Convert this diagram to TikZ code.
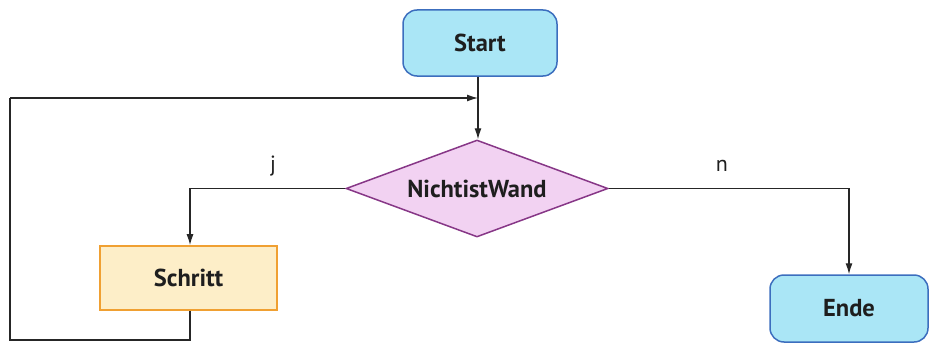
\documentclass[tikz,border=0pt]{standalone}
\usepackage{fontspec}
\setmainfont{PT Sans}
\usetikzlibrary{shapes.geometric,arrows.meta}
\definecolor{termfill}{RGB}{170,230,246}
\definecolor{termdraw}{RGB}{60,110,190}
\definecolor{decfill}{RGB}{242,210,242}
\definecolor{decdraw}{RGB}{135,55,135}
\definecolor{stepfill}{RGB}{253,238,200}
\definecolor{stepdraw}{RGB}{240,160,50}
\definecolor{txt}{RGB}{30,30,30}
\begin{document}
\begin{tikzpicture}[x=1pt,y=-1pt,
  term/.style={draw=termdraw,fill=termfill,line width=1.5pt,rounded corners=14pt,minimum width=154pt,minimum height=66pt,font=\bfseries\fontsize{24.5}{26}\selectfont,text=txt},
  decision/.style={draw=decdraw,fill=decfill,line width=1.5pt,diamond,aspect=2.7,minimum width=262pt,minimum height=97pt,inner sep=0pt,font=\bfseries\fontsize{24.5}{26}\selectfont,text=txt},
  stepbox/.style={draw=stepdraw,fill=stepfill,line width=1.7pt,minimum width=177pt,minimum height=64pt,font=\bfseries\fontsize{24.5}{26}\selectfont,text=txt},
  conn/.style={draw=black!85,line width=1.2pt},
  arr/.style={conn,-{Latex[length=11pt,width=7pt]}},
  lbl/.style={font=\fontsize{22}{24}\selectfont,text=txt}]
\useasboundingbox (0,0) rectangle (933,345);
\node[term] (start) at (480,43) {Start};
\node[decision] (dec) at (477,188.5) {NichtistWand};
\node[stepbox] (schritt) at (188.5,278) {Schritt};
\node[term,minimum width=158pt,minimum height=67pt] (ende) at (849,308.5) {Ende};
\coordinate (join) at (478,98);
\coordinate (loopA) at (10,98);
\coordinate (loopB) at (10,340);
\coordinate (loopC) at (190,340);
\draw[conn] (start.south -| join) -- (join);
\draw[arr] (join) -- (join |- dec.north);
\draw[conn] (schritt.south -| loopC) -- (loopC) -- (loopB) -- (loopA);
\draw[arr] (loopA) -- (join);
\draw[arr] (dec.west) -| (schritt.north -| loopC);
\draw[arr] (dec.east) -| (ende.north);
\node[lbl] (j) at (273,166) {j};
\node[lbl] (n) at (722,166) {n};
\end{tikzpicture}
\end{document}
